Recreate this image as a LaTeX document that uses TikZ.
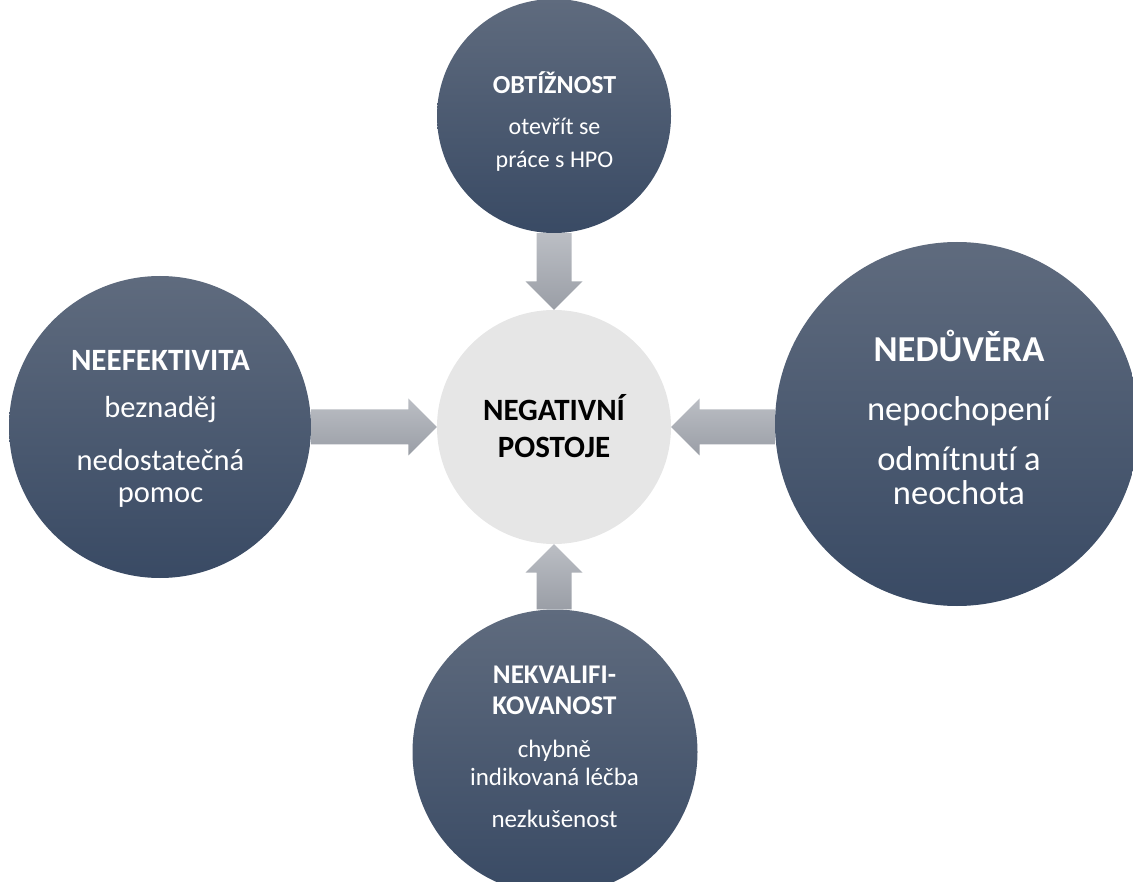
\documentclass[tikz,border=0pt]{standalone}
\usepackage{fontspec}
\setmainfont{Carlito}[Ligatures={NoCommon}]
\usepackage{xcolor}
\definecolor{bubbletop}{HTML}{5F6B7E}
\definecolor{bubblebot}{HTML}{394A64}
\definecolor{coregray}{HTML}{E6E6E6}
\definecolor{flowtop}{HTML}{BBBEC4}
\definecolor{flowbot}{HTML}{9A9EA6}
\usetikzlibrary{calc}

\tikzset{
  bubble/.style={circle, inner sep=0pt, top color=bubbletop, bottom color=bubblebot},
  core/.style={circle, inner sep=0pt, fill=coregray},
  flow/.style={top color=flowtop, bottom color=flowbot},
  hd/.style={anchor=base, inner sep=0pt, text=white, font=\bfseries\fontsize{#1}{#1}\selectfont},
  ln/.style={anchor=base, inner sep=0pt, text=white, font=\fontsize{#1}{#1}\selectfont},
}

\begin{document}
\begin{tikzpicture}[x=1pt, y=-1pt]
  \useasboundingbox (0,0) rectangle (1133,882);
  % circles
  \node[core, minimum size=234pt] (mid) at (554,427) {};
  \node[bubble, minimum size=234pt] (top) at (554,116) {};
  \node[bubble, minimum size=302pt] (left) at (160,427) {};
  \node[bubble, minimum size=364pt] (right) at (957,424) {};
  \node[bubble, minimum size=285pt] (bottom) at (555,752) {};

  % block arrows into the middle
  \foreach \s/\e in {mid.north |- top.south/mid.north, mid.west -| left.east/mid.west,
                     mid.east -| right.west/mid.east, mid.south |- bottom.north/mid.south} {
    \coordinate (a) at (\s);
    \coordinate (b) at (\e);
    \coordinate (h) at ($(b)!28.5pt!(a)$);
    \path[flow] ($(a)!17.5pt!90:(b)$) -- ($(h)!17.5pt!90:(b)$) -- ($(h)!28.5pt!90:(b)$)
      -- (b) -- ($(h)!28.5pt!-90:(b)$) -- ($(h)!17.5pt!-90:(b)$) -- ($(a)!17.5pt!-90:(b)$) -- cycle;
  }

  % texts
  \node[anchor=base, inner sep=0pt, font=\bfseries\fontsize{31}{31}\selectfont] (mid-1) at (554,421) {NEGATIVNÍ};
  \node[anchor=base, inner sep=0pt, font=\bfseries\fontsize{31}{31}\selectfont] (mid-2) at (554,457) {POSTOJE};

  \node[hd=26] (top-h) at (554.5,94) {OBTÍŽNOST};
  \foreach \y/\t [count=\k] in {135/otevřít se, 168/práce s HPO}
    \node[ln=24] (top-\k) at (554.5,\y) {\t};

  \node[hd=31] (left-h) at (160.5,371) {NEEFEKTIVITA};
  \foreach \y/\t [count=\k] in {418/beznaděj, 471/nedostatečná, 503/pomoc}
    \node[ln=30.5] (left-\k) at (160.5,\y) {\t};

  \node[hd=36.5] (right-h) at (959,362) {NEDŮVĚRA};
  \foreach \y/\t [count=\k] in {421/nepochopení, 471/odmítnutí a, 504/neochota}
    \node[ln=34.5] (right-\k) at (959,\y) {\t};

  \node[hd=27] (bottom-h1) at (554.5,683) {NEKVALIFI-};
  \node[hd=27] (bottom-h2) at (554.5,714) {KOVANOST};
  \foreach \y/\t [count=\k] in {757/chybně, 785/indikovaná léčba, 827/nezkušenost}
    \node[ln=25] (bottom-\k) at (554.5,\y) {\t};
\end{tikzpicture}
\end{document}
